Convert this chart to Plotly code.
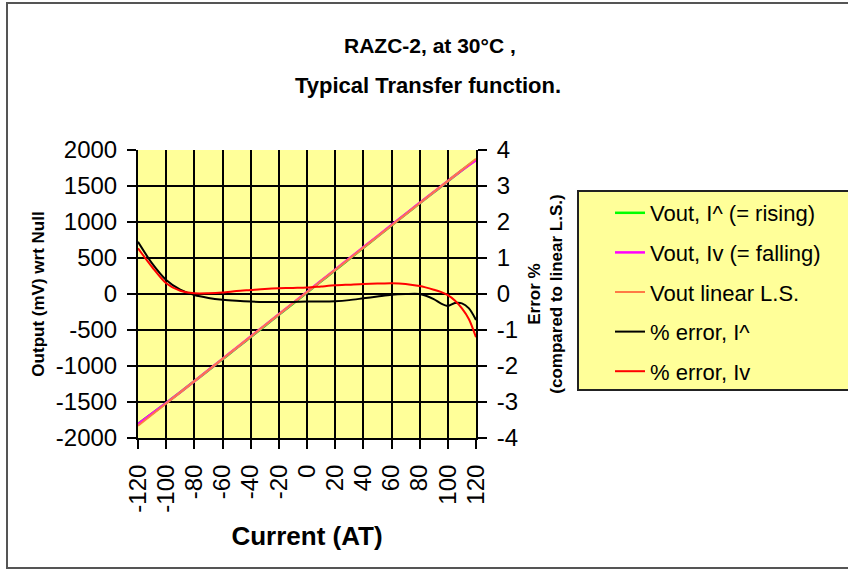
import plotly.graph_objects as go

# ---------------- data ----------------
current = [-120, -110, -100, -90, -80, -70, -60, -50, -40, -30, -20, -10, 0,
           10, 20, 30, 40, 50, 60, 70, 80, 90, 100, 110, 120]
vout_rising = [-1802, -1659, -1513, -1364, -1212, -1059, -905, -752, -597, -443,
               -288, -134, 21, 176, 330, 486, 641, 797, 952, 1107, 1261, 1413,
               1564, 1720, 1866]
vout_falling = [-1806, -1661, -1514, -1364, -1211, -1057, -901, -747, -591, -436,
                -281, -127, 28, 184, 338, 494, 648, 803, 958, 1112, 1265, 1418,
                1569, 1718, 1857]
vout_linear = [-1829, -1675, -1520, -1366, -1211, -1057, -902, -748, -593, -439,
               -284, -130, 25, 180, 334, 489, 643, 798, 952, 1107, 1261, 1416,
               1570, 1725, 1879]

current_err = [-120, -110, -100, -90, -80, -70, -60, -50, -40, -30, -20, -10, 0,
               10, 20, 30, 40, 50, 60, 70, 80, 90, 95, 100, 105, 110, 115, 120]
err_rising = [1.45, 0.85, 0.39, 0.12, -0.03, -0.11, -0.16, -0.19, -0.21, -0.22,
              -0.22, -0.22, -0.21, -0.21, -0.20, -0.17, -0.12, -0.07, -0.02, 0.0,
              0.0, -0.14, -0.26, -0.33, -0.25, -0.26, -0.40, -0.72]
err_falling = [1.27, 0.75, 0.30, 0.09, 0.02, 0.02, 0.04, 0.08, 0.11, 0.14,
               0.16, 0.17, 0.18, 0.21, 0.24, 0.26, 0.28, 0.29, 0.30, 0.28,
               0.22, 0.12, 0.06, -0.03, -0.18, -0.40, -0.70, -1.20]

x_tick_vals = [-120, -100, -80, -60, -40, -20, 0, 20, 40, 60, 80, 100, 120]
x_tick_text = ["-120", "-100", "-80", "-60", "-40", "-20", "0", "20", "40",
               "60", "80", "100", "120"]
y_tick_vals = [-2000, -1500, -1000, -500, 0, 500, 1000, 1500, 2000]
y_tick_text = ["-2000", "-1500", "-1000", "-500", "0", "500", "1000", "1500", "2000"]
y2_tick_vals = [-4, -3, -2, -1, 0, 1, 2, 3, 4]
y2_tick_text = ["-4", "-3", "-2", "-1", "0", "1", "2", "3", "4"]

series_names = ["Vout, I^ (= rising)", "Vout, Iv (= falling)", "Vout linear L.S.",
                "% error, I^", "% error, Iv"]

FONT = "Liberation Sans, Arial, sans-serif"

fig = go.Figure()
fig.add_trace(go.Scatter(x=current, y=vout_rising, name=series_names[0], mode="lines",
                         line=dict(color="#00FF00", width=2.5, shape="spline"),
                         legendgroup="g1"))
fig.add_trace(go.Scatter(x=current, y=vout_falling, name=series_names[1], mode="lines",
                         line=dict(color="#FF00FF", width=2.5, shape="spline"),
                         legendgroup="g2"))
fig.add_trace(go.Scatter(x=current, y=vout_linear, name=series_names[2], mode="lines",
                         line=dict(color="#FF7A45", width=2),
                         legendgroup="g3"))
fig.add_trace(go.Scatter(x=current_err, y=err_rising, name=series_names[3], mode="lines",
                         line=dict(color="#000000", width=2, shape="spline", smoothing=0.8),
                         yaxis="y2", legendgroup="g4"))
fig.add_trace(go.Scatter(x=current_err, y=err_falling, name=series_names[4], mode="lines",
                         line=dict(color="#FF0000", width=2, shape="spline", smoothing=0.8),
                         yaxis="y2", legendgroup="g5"))

ML, MR, MT, MB = 138, 372, 150, 133
W, H = 848, 571
PW, PH = W - ML - MR, H - MT - MB


def px2x(px):
    return (px - ML) / PW


def py2y(py):
    return 1 - (py - MT) / PH


fig.update_layout(
    width=W, height=H, autosize=False,
    margin=dict(l=ML, r=MR, t=MT, b=MB, pad=0),
    paper_bgcolor="white", plot_bgcolor="#FFFF99",
    font=dict(family=FONT, color="black"),
    showlegend=True,
    legend=dict(x=px2x(610), xanchor="left", y=py2y(192), yanchor="top",
                bgcolor="rgba(0,0,0,0)", borderwidth=0,
                font=dict(size=22, family=FONT), tracegroupgap=8,
                traceorder="grouped"),
    xaxis=dict(range=[-120, 120], tickvals=x_tick_vals, ticktext=x_tick_text,
               tickangle=-90, tickfont=dict(size=24), ticklabelstandoff=6,
               showgrid=True, gridcolor="black", gridwidth=2,
               showline=True, linecolor="black", linewidth=2,
               ticks="outside", ticklen=9, tickwidth=2, tickcolor="black",
               zeroline=False,
               title=dict(text="<b>Current (AT)</b>", font=dict(size=26), standoff=15)),
    yaxis=dict(range=[-2000, 2000], tickvals=y_tick_vals, ticktext=y_tick_text,
               tickfont=dict(size=24), ticklabelstandoff=5,
               showgrid=True, gridcolor="black", gridwidth=2,
               showline=True, linecolor="black", linewidth=2,
               ticks="outside", ticklen=9, tickwidth=2, tickcolor="black",
               zeroline=False,
               title=dict(text="<b>Output (mV) wrt Null</b>", font=dict(size=17), standoff=7)),
    yaxis2=dict(range=[-4, 4], tickvals=y2_tick_vals, ticktext=y2_tick_text,
                overlaying="y", side="right", tickfont=dict(size=24), ticklabelstandoff=5,
                showgrid=False, showline=True, linecolor="black", linewidth=2,
                ticks="outside", ticklen=9, tickwidth=2, tickcolor="black",
                zeroline=False,
                title=dict(text="<b>Error %<br>(compared to linear L.S.)</b>",
                           font=dict(size=17), standoff=11)),
    shapes=[
        dict(type="rect", xref="paper", yref="paper",
             x0=px2x(7), x1=px2x(851), y0=py2y(568), y1=py2y(3),
             line=dict(color="#555555", width=2), fillcolor="rgba(0,0,0,0)", layer="below"),
        dict(type="rect", xref="paper", yref="paper",
             x0=px2x(578), x1=px2x(851), y0=py2y(390), y1=py2y(191),
             line=dict(color="#222222", width=2), fillcolor="#FFFF99", layer="below"),
    ],
    annotations=[
        dict(text="<b>RAZC-2, at 30°C ,</b>", xref="paper", yref="paper",
             x=px2x(430), y=py2y(45), xanchor="center", yanchor="middle",
             showarrow=False, font=dict(size=21, family=FONT)),
        dict(text="<b>Typical Transfer function.</b>", xref="paper", yref="paper",
             x=px2x(428), y=py2y(86), xanchor="center", yanchor="middle",
             showarrow=False, font=dict(size=22, family=FONT)),
    ],
)

fig.write_html("out.html",
               config={"displayModeBar": False},
               post_script="document.body.style.margin='0';document.body.style.overflow='hidden';")
